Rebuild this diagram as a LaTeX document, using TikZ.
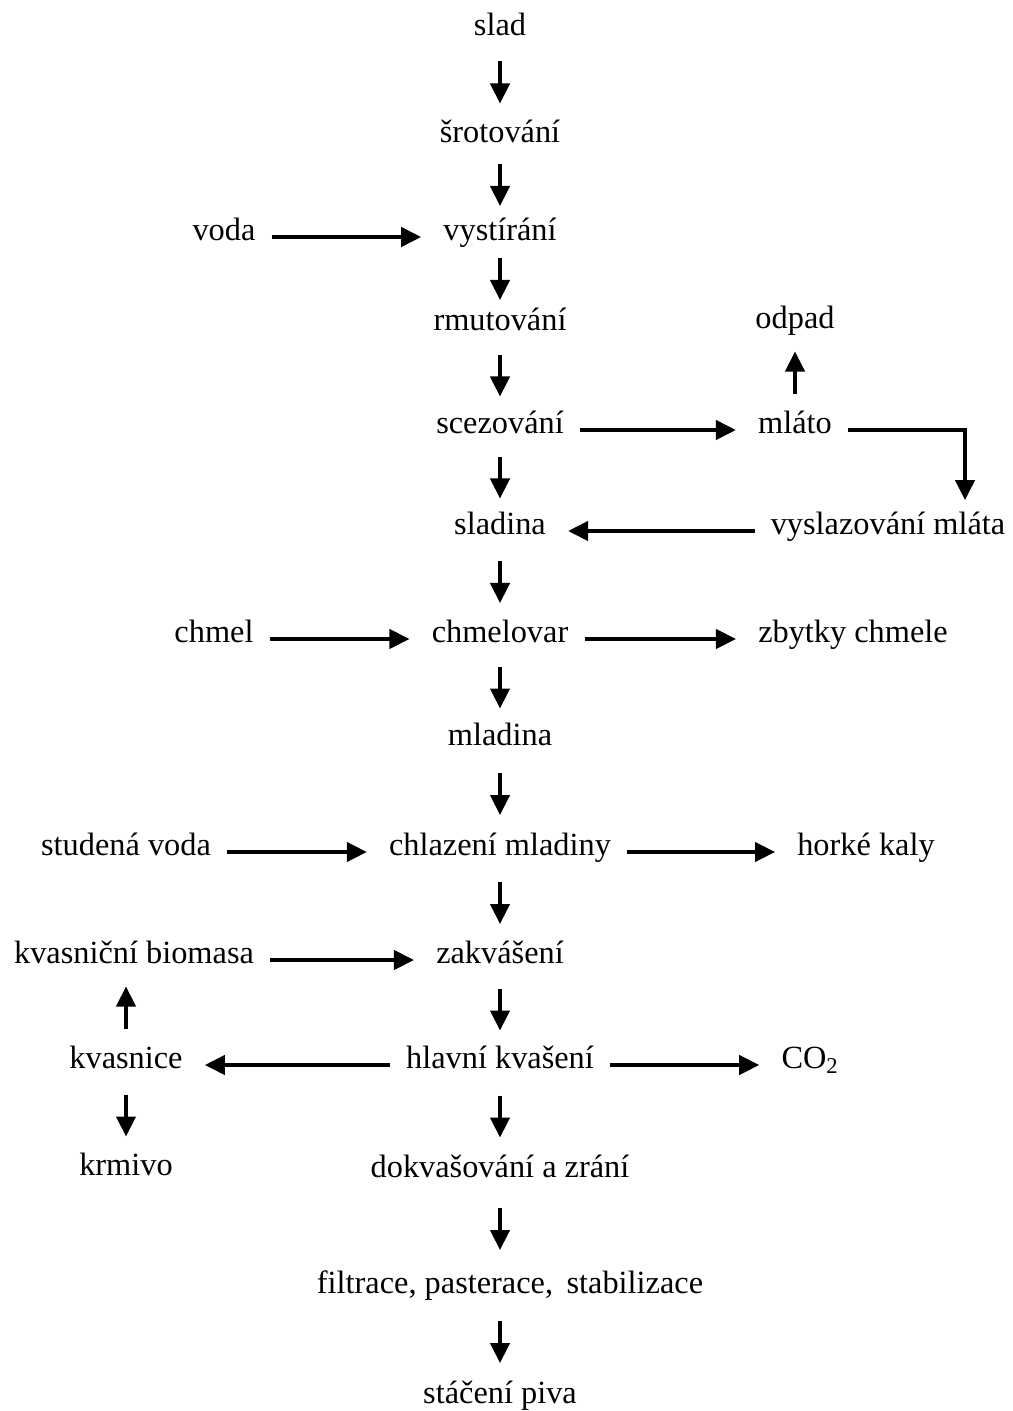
\documentclass[tikz,border=0pt]{standalone}
\usepackage{fontspec}
\setmainfont{Liberation Serif}
\usetikzlibrary{arrows.meta,calc}
\tikzset{
  >={Triangle[length=5mm,width=4.8mm]},
  stage/.style={inner xsep=4mm,inner ysep=4.5mm,text height=0.72em,text depth=0.22em,
    font=\fontsize{23}{27}\selectfont},
  flow/.style={->,line width=2.6pt,draw=#1,shorten >=1.5mm},
  flow/.default=black,
  drop/.style={flow,shorten >=0pt},
}
\begin{document}
\begin{tikzpicture}[x=0.025cm,y=-0.025cm]
  \useasboundingbox (0,0) rectangle (1012,1411);
  % main line
  \node[stage] (slad) at (500,32) {slad};
  \node[stage] (srot) at (500,139) {šrotování};
  \node[stage] (vyst) at (500,237) {vystírání};
  \node[stage] (rmut) at (500,327) {rmutování};
  \node[stage] (scez) at (500,430) {scezování};
  \node[stage] (sladina) at (500,531) {sladina};
  \node[stage] (chmelovar) at (500,639) {chmelovar};
  \node[stage] (mladina) at (500,742) {mladina};
  \node[stage] (chlaz) at (500,852) {chlazení mladiny};
  \node[stage] (zakv) at (500,960) {zakvášení};
  \node[stage] (hlavni) at (500,1065) {hlavní kvašení};
  \node[stage] (dokv) at (500,1174) {dokvašování a zrání};
  \node[stage] (filtr) at (510,1290) {filtrace, pasterace,\, stabilizace};
  \node[stage] (stac) at (500,1400) {stáčení piva};
  % side inputs and outputs
  \node[stage] (voda) at (224,237) {voda};
  \node[stage] (odpad) at (795,325) {odpad};
  \node[stage] (mlato) at (795,430) {mláto};
  \node[stage] (vyslaz) at (888,531) {vyslazování mláta};
  \node[stage] (chmel) at (214,639) {chmel};
  \node[stage] (zbytky) at (853,639) {zbytky chmele};
  \node[stage] (studena) at (126,852) {studená voda};
  \node[stage] (horke) at (866,852) {horké kaly};
  \node[stage] (biomasa) at (134,960) {kvasniční biomasa};
  \node[stage] (kvasnice) at (126,1065) {kvasnice};
  \node[stage] (co2) at (810,1065) {CO\textsubscript{2}};
  \node[stage] (krmivo) at (126,1172) {krmivo};
  \coordinate (bend) at (965,430);

  % short arrows, centred between the two texts
  \foreach \a/\b in {slad/srot,srot/vyst,vyst/rmut,rmut/scez,scez/sladina,sladina/chmelovar,
    chmelovar/mladina,mladina/chlaz,chlaz/zakv,zakv/hlavni,hlavni/dokv,kvasnice/krmivo}
    \draw[drop] ($(\a)!0.5!(\b)+(0,-24)$) -- ++(0,42);
  \draw[drop] ($(dokv)!0.5!(dokv |- filtr)+(0,-24)$) -- ++(0,42);
  \draw[drop] ($(stac |- filtr)!0.5!(stac)+(0,-24)$) -- ++(0,42);
  \draw[drop] ($(mlato)!0.5!(odpad)+(0,16)$) -- ++(0,-42);
  \draw[drop] ($(kvasnice)!0.5!(kvasnice |- biomasa)+(0,16)$) -- ++(0,-42);

  \draw[flow] (voda) -- (vyst);
  \draw[flow] (scez) -- (mlato);
  \draw[flow] (mlato) -- (bend) -- (vyslaz.north -| bend);
  \draw[flow] (vyslaz) -- (sladina);
  \draw[flow] (chmel) -- (chmelovar);
  \draw[flow] (chmelovar) -- (zbytky);
  \draw[flow] (studena) -- (chlaz);
  \draw[flow] (chlaz) -- (horke);
  \draw[flow] (biomasa) -- (zakv);
  \draw[flow] (hlavni) -- (kvasnice);
  \draw[flow] (hlavni) -- (co2);
\end{tikzpicture}
\end{document}
